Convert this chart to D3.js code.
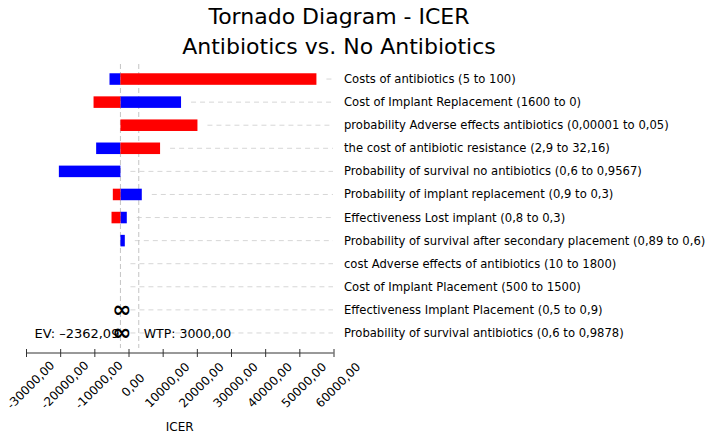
<!DOCTYPE html>
<html><head><meta charset="utf-8">
<script src="https://cdn.jsdelivr.net/npm/d3@7"></script>
<style>
body{margin:0;background:#fff;}
text{font-family:"DejaVu Sans",sans-serif;fill:#000;}
</style></head>
<body><svg id="c" width="708" height="434"></svg>
<script>
const titleLines = ["Tornado Diagram - ICER", "Antibiotics vs. No Antibiotics"];
const categories = [
  "Costs of antibiotics (5 to 100)",
  "Cost of Implant Replacement (1600 to 0)",
  "probability Adverse effects antibiotics (0,00001 to 0,05)",
  "the cost of antibiotic resistance (2,9 to 32,16)",
  "Probability of survival no antibiotics (0,6 to 0,9567)",
  "Probability of implant replacement (0,9 to 0,3)",
  "Effectiveness Lost implant (0,8 to 0,3)",
  "Probability of survival after secondary placement (0,89 to 0,6)",
  "cost Adverse effects of antibiotics (10 to 1800)",
  "Cost of Implant Placement (500 to 1500)",
  "Effectiveness Implant Placement (0,5 to 0,9)",
  "Probability of survival antibiotics (0,6 to 0,9878)"
];
const EV = -2362.09;
const WTP = 3000;
// ICER at low input value (blue) and high input value (red); null = no bar
const blueValues = [-5560, 15380, null, -9470, -20380, 3890, -500, -1080, null, null, null, null];
const redValues  = [55000, -10230, 20180, 9240, null, -4590, -4970, null, null, null, null, null];
const infinite   = [false, false, false, false, false, false, false, false, false, false, true, true];
const tickValues = [-30000, -20000, -10000, 0, 10000, 20000, 30000, 40000, 50000, 60000];
const axisTitle = "ICER";

const svg = d3.select("#c");
const x = d3.scaleLinear().domain([-30000, 60000]).range([26, 333.5]);
const y = d3.scaleBand().domain(categories).range([67.5, 344.5]).paddingInner(0.5).paddingOuter(0.25);
const fmt = v => d3.format(".2f")(Math.abs(v)).replace(".", ",");
const fmtT = v => (v < 0 ? "-" : "") + fmt(v);

// title
svg.selectAll("text.title").data(titleLines).join("text")
  .attr("class","title").attr("x", 339).attr("y", (d,i)=> 24 + i*30)
  .attr("text-anchor","middle").style("font-size","22px").text(d=>d);

const cy = d => y(d) + y.bandwidth()/2;

// dashed row lines
categories.forEach((c,i)=>{
  const vals = [EV, blueValues[i], redValues[i]].filter(v=>v!==null);
  const maxX = x(d3.max(vals));
  svg.append("line").attr("x1", maxX + 10).attr("x2", 333)
    .attr("y1", cy(c)).attr("y2", cy(c))
    .attr("stroke","#d6d6d6").attr("stroke-width",1).attr("stroke-dasharray","5,4");
});

// reference lines
[EV, WTP].forEach(v=>{
  svg.append("line").attr("x1", x(v)).attr("x2", x(v)).attr("y1", 64).attr("y2", 348)
    .attr("stroke","#c4c4c4").attr("stroke-width",1).attr("stroke-dasharray","5,3");
});

// bars
function bars(vals, color){
  svg.append("g").selectAll("rect").data(categories.map((c,i)=>({c, v: vals[i]})).filter(d=>d.v!==null))
    .join("rect")
    .attr("x", d=> Math.min(x(d.v), x(EV)))
    .attr("width", d=> Math.abs(x(d.v) - x(EV)))
    .attr("y", d=> y(d.c)).attr("height", y.bandwidth())
    .attr("fill", color);
}
bars(blueValues, "#0000ff");
bars(redValues, "#ff0000");

// EV / WTP labels
const lastY = cy(categories[categories.length-1]) + 5;
svg.append("text").attr("x", x(EV)-1).attr("y", lastY).attr("text-anchor","end")
  .style("font-size","13px").text("EV: " + fmtT(EV).replace("-", "–"));
svg.append("text").attr("x", x(WTP)+5).attr("y", lastY)
  .style("font-size","12.5px").text("WTP: " + fmtT(WTP));

// infinity markers
svg.append("g").selectAll("text").data(categories.filter((c,i)=>infinite[i]))
  .join("text").attr("x", x(EV)+1.5).attr("y", d=> cy(d)+7)
  .attr("text-anchor","middle").style("font-size","23px").style("font-weight","bold").text("∞");

// category labels
svg.append("g").selectAll("text").data(categories).join("text")
  .attr("x", 344).attr("y", d=> cy(d)+4).style("font-size","11.6px").text(d=>d);

// axis
const axis = d3.axisBottom(x).tickValues(tickValues).tickSize(4).tickFormat(fmtT);
const ag = svg.append("g").attr("transform","translate(0,353)").call(axis);
ag.select(".domain").attr("stroke","#333").attr("d", `M${x.range()[0]},0H${x.range()[1]}`);
ag.selectAll(".tick line").attr("y1",-4).attr("y2",4).attr("stroke","#333");
ag.selectAll(".tick text").attr("text-anchor","middle")
  .attr("transform","translate(4,32) rotate(-45)").attr("y",0).attr("dy","0.35em")
  .style("font-size","12px").style("font-family","DejaVu Sans").attr("fill","#000");

svg.append("text").attr("x", (x.range()[0]+x.range()[1])/2).attr("y", 431)
  .attr("text-anchor","middle").style("font-size","12px").text(axisTitle);
</script></body></html>
